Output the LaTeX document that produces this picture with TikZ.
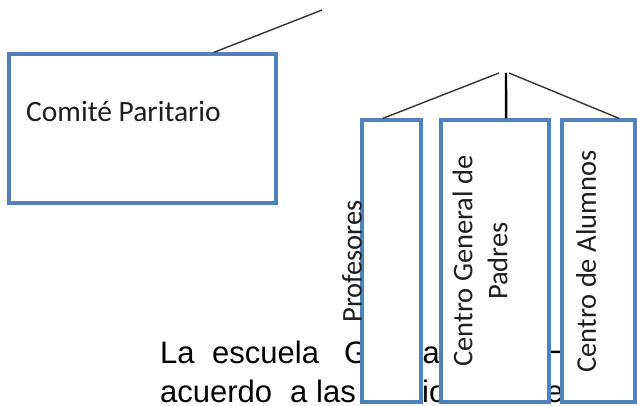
\documentclass[tikz,border=0pt]{standalone}
\usepackage{fontspec}
\setmainfont{Liberation Sans}
\newfontfamily\carlito{Carlito}
\usetikzlibrary{calc}
\definecolor{boxblue}{RGB}{79,129,189}
\definecolor{txtgray}{RGB}{30,30,30}
\begin{document}
\begin{tikzpicture}[x=1pt,y=-1pt,
  orgbox/.style={draw=boxblue, line width=3.2pt, fill=white, inner sep=0pt},
  lbl/.style={font=\carlito\fontsize{28.5}{35}\selectfont, text=txtgray, inner sep=0pt},
  body/.style={font=\fontsize{31}{36}\selectfont, text=black, inner sep=0pt, anchor=base west},
  conn/.style={draw=black!80, line width=1.4pt},
  vconn/.style={draw=black, line width=2.4pt}]
\useasboundingbox (0,0) rectangle (637,406);
% body text (behind the boxes)
\node[body] (w1) at (160,363) {La};
\node[body] (w2) at (212,363) {escuela};
\node[body] (w3) at (344,363) {G};
\node[body] (w4) at (412,363) {ra};
\node[body] (w5) at (545,363) {H};
\node[body] (v1) at (160,402) {acuerdo};
\node[body] (v2) at (290,402) {a};
\node[body] (v3) at (316,402) {las};
\node[body] (v4) at (422,402) {io};
\node[body] (v5) at (546,402) {e};
% boxes
\node[orgbox, minimum width=267pt, minimum height=149pt] (c) at (142.5,128.5) {};
\node[orgbox, minimum width=59pt, minimum height=282pt] (p) at (391.5,261) {};
\node[orgbox, minimum width=108pt, minimum height=282pt] (g) at (495,261) {};
\node[orgbox, minimum width=73pt, minimum height=282pt] (a) at (598.5,261) {};
% labels
\node[lbl, font=\carlito\fontsize{29.5}{35}\selectfont, anchor=base west] (tc) at (26,122) {Comité Paritario};
\node[lbl, rotate=90] (tp) at (352,261.5) {Profesores};
\node[lbl, rotate=90, align=center] (tg) at (480,261) {Centro General de\\Padres};
\node[lbl, rotate=90] (ta) at (586,261.5) {Centro de Alumnos};
% connectors
\coordinate (top) at (322,10);
\coordinate (jl) at (499,73);
\coordinate (jc) at (506,73);
\coordinate (jr) at (509,73);
\draw[conn] ($(c.north west)!0.764!(c.north east)$) -- (top);
\draw[conn] (jl) -- ($(p.north west)!0.36!(p.north east)$);
\draw[vconn] (jc) -- ($(g.north west)!0.60!(g.north east)$);
\draw[conn] (jr) -- ($(a.north west)!0.77!(a.north east)$);
\end{tikzpicture}
\end{document}
